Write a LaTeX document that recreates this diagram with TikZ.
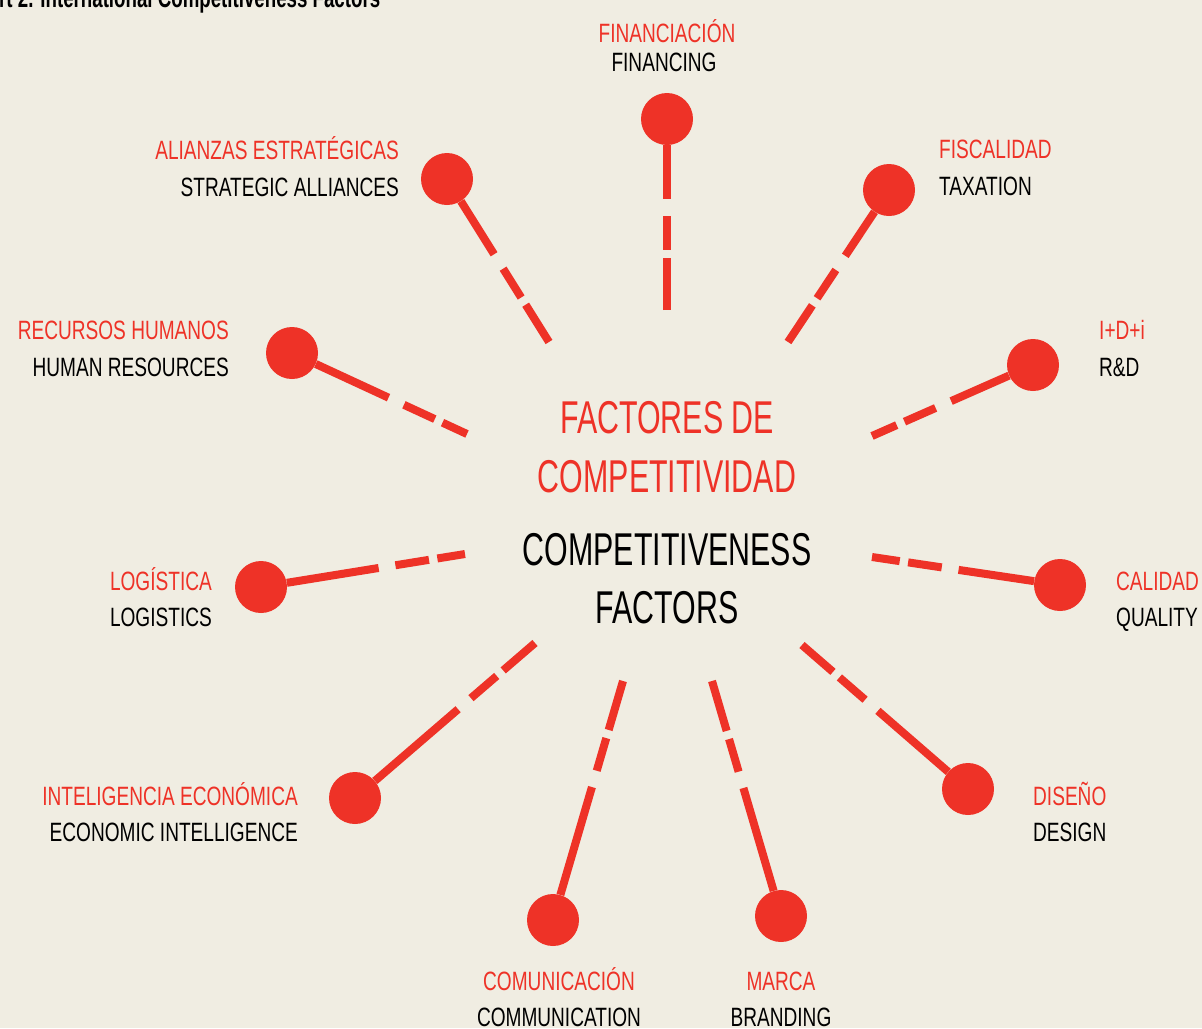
\documentclass[tikz,border=0pt]{standalone}
\usepackage{fontspec}
\setmainfont{Liberation Sans}
\newfontfamily\labfont{Liberation Sans}[FakeStretch=0.72]
\newfontfamily\bigfont{Liberation Sans}[FakeStretch=0.66]
\newfontfamily\ttlfont{Liberation Sans}[FakeStretch=0.68]
\definecolor{cream}{RGB}{240,237,226}
\definecolor{chred}{RGB}{238,50,39}
\begin{document}
\begin{tikzpicture}[x=1pt,y=-1pt,
  dot/.style={circle,fill=chred,minimum size=52pt,inner sep=0pt},
  spoke/.style={draw=chred,line width=8pt,dash pattern=on #1 off 8.5pt on 34pt off 17pt on 3000pt},
  es/.style={text=chred,font=\labfont\fontsize{26.5}{30}\selectfont,inner sep=0pt},
  en/.style={text=black,font=\labfont\fontsize{26.5}{30}\selectfont,inner sep=0pt},
  bs/.style={text=chred,font=\bigfont\fontsize{46}{50}\selectfont,inner sep=0pt,anchor=base},
  bn/.style={text=black,font=\bigfont\fontsize{46}{50}\selectfont,inner sep=0pt,anchor=base}
]
\fill[cream] (0,0) rectangle (1202,1028);
\useasboundingbox (0,0) rectangle (1202,1028);
\begin{scope}
\clip (0,0) rectangle (1202,1028);
\node[inner sep=0pt,anchor=base west,font=\ttlfont\bfseries\fontsize{27.5}{30}\selectfont] (title) at (-1,7) {rt 2. International Competitiveness Factors};
\end{scope}

% center text
\node[bs] (c1) at (667,433) {FACTORES DE};
\node[bs] (c2) at (667,492) {COMPETITIVIDAD};
\node[bn] (c3) at (667,565) {COMPETITIVENESS};
\node[bn] (c4) at (667,623) {FACTORS};

% circles
\node[dot] (fin) at (667,119) {};
\node[dot] (sa) at (447,179) {};
\node[dot] (tax) at (889,190) {};
\node[dot] (rd) at (1033,365) {};
\node[dot] (hr) at (292,353) {};
\node[dot] (qual) at (1060,585) {};
\node[dot] (log) at (261,587) {};
\node[dot] (econ) at (355,798) {};
\node[dot] (des) at (968,789) {};
\node[dot] (comm) at (553,920) {};
\node[dot] (brand) at (781,916) {};

% inner ends
\coordinate (finE) at (667,310);
\coordinate (saE) at (549,342);
\coordinate (taxE) at (788,342);
\coordinate (rdE) at (872,436);
\coordinate (hrE) at (467,434);
\coordinate (qualE) at (872,557);
\coordinate (logE) at (465,554);
\coordinate (econE) at (535,643);
\coordinate (desE) at (802,645);
\coordinate (commE) at (623,681);
\coordinate (brandE) at (712,681);

% spokes
\draw[spoke=52pt] (finE) -- (fin);
\draw[spoke=44pt] (saE) -- (sa);
\draw[spoke=44pt] (taxE) -- (tax);
\draw[spoke=27pt] (rdE) -- (rd);
\draw[spoke=27pt] (hrE) -- (hr);
\draw[spoke=28pt] (qualE) -- (qual);
\draw[spoke=28pt] (logE) -- (log);
\draw[spoke=42pt] (econE) -- (econ);
\draw[spoke=41pt] (desE) -- (des);
\draw[spoke=51pt] (commE) -- (comm);
\draw[spoke=52pt] (brandE) -- (brand);

% labels
\node[es,anchor=base] (finS) at (667,42) {FINANCIACIÓN};
\node[en,anchor=base] (finN) at (664,71) {FINANCING};
\node[es,anchor=base east] (saS) at (399,159) {ALIANZAS ESTRATÉGICAS};
\node[en,anchor=base east] (saN) at (399,196) {STRATEGIC ALLIANCES};
\node[es,anchor=base west] (taxS) at (939,158) {FISCALIDAD};
\node[en,anchor=base west] (taxN) at (939,195) {TAXATION};
\node[es,anchor=base west] (rdS) at (1099,339) {I+D+i};
\node[en,anchor=base west] (rdN) at (1099,376) {R\&D};
\node[es,anchor=base east] (hrS) at (229,339) {RECURSOS HUMANOS};
\node[en,anchor=base east] (hrN) at (229,376) {HUMAN RESOURCES};
\node[es,anchor=base east] (logS) at (212,590) {LOGÍSTICA};
\node[en,anchor=base east] (logN) at (212,626) {LOGISTICS};
\node[es,anchor=base west] (qualS) at (1116,590) {CALIDAD};
\node[en,anchor=base west] (qualN) at (1116,626) {QUALITY};
\node[es,anchor=base east] (econS) at (298,805) {INTELIGENCIA ECONÓMICA};
\node[en,anchor=base east] (econN) at (298,841) {ECONOMIC INTELLIGENCE};
\node[es,anchor=base west] (desS) at (1033,805) {DISEÑO};
\node[en,anchor=base west] (desN) at (1033,841) {DESIGN};
\node[es,anchor=base] (commS) at (559,990) {COMUNICACIÓN};
\node[en,anchor=base] (commN) at (559,1026) {COMMUNICATION};
\node[es,anchor=base] (brandS) at (781,990) {MARCA};
\node[en,anchor=base] (brandN) at (781,1026) {BRANDING};
\end{tikzpicture}
\end{document}
